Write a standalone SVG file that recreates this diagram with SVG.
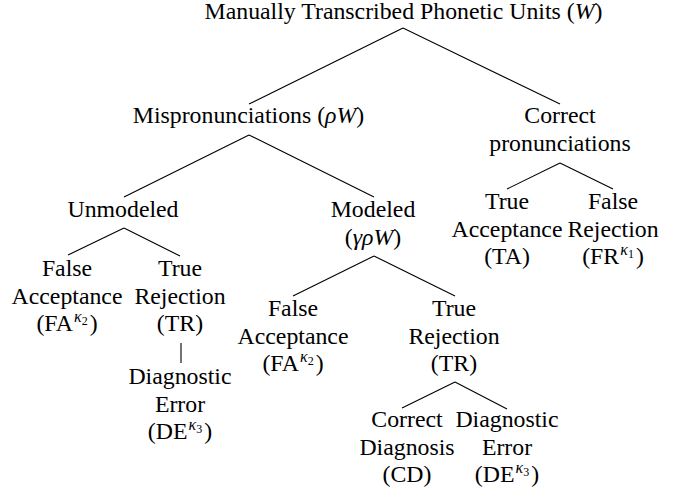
<svg xmlns="http://www.w3.org/2000/svg" width="687" height="495" viewBox="0 0 687 495">
<style>
.t{font-family:"Liberation Serif",serif;font-size:23.8px;fill:#000;text-anchor:middle}
.i{font-style:italic}
.k{font-style:italic;font-size:16px}
.s{font-size:12px}
.e{stroke:#000;stroke-width:1.1}
</style>
<rect width="687" height="495" fill="#fff"/>
<g id="edges" class="e">
<line x1="403" y1="28" x2="249" y2="104"/>
<line x1="403" y1="28" x2="560" y2="104"/>
<line x1="249" y1="135" x2="124" y2="197"/>
<line x1="249" y1="135" x2="374" y2="197"/>
<line x1="124" y1="228" x2="68" y2="255"/>
<line x1="124" y1="228" x2="180" y2="256"/>
<line x1="181" y1="343" x2="181" y2="363"/>
<line x1="374" y1="256" x2="293" y2="296"/>
<line x1="374" y1="256" x2="455" y2="296"/>
<line x1="455" y1="382" x2="402" y2="408"/>
<line x1="455" y1="382" x2="507" y2="409"/>
<line x1="560" y1="163" x2="507" y2="189"/>
<line x1="560" y1="163" x2="613" y2="189"/>
</g>
<g id="root"><text class="t" x="403.5" y="19">Manually Transcribed Phonetic Units (<tspan class="i">W</tspan>)</text></g>
<g id="mispron"><text class="t" x="248.5" y="123">Mispronunciations (<tspan class="i">ρW</tspan>)</text></g>
<g id="correct"><text class="t" x="560" y="123">Correct</text><text class="t" x="560" y="151">pronunciations</text></g>
<g id="unmodeled"><text class="t" x="123" y="217">Unmodeled</text></g>
<g id="modeled"><text class="t" x="373" y="217">Modeled</text><text class="t" x="373" y="245">(<tspan class="i">γρW</tspan>)</text></g>
<g id="fa1"><text class="t" x="67" y="276">False</text><text class="t" x="67" y="303.5">Acceptance</text><text class="t" x="67" y="331">(FA<tspan class="k" dx="1" dy="-9">κ</tspan><tspan class="s" dy="3">2</tspan><tspan dx="2" dy="6">)</tspan></text></g>
<g id="tr1"><text class="t" x="180" y="276">True</text><text class="t" x="180" y="303.5">Rejection</text><text class="t" x="180" y="331">(TR)</text></g>
<g id="de1"><text class="t" x="180" y="384">Diagnostic</text><text class="t" x="180" y="411.5">Error</text><text class="t" x="180" y="439">(DE<tspan class="k" dx="1" dy="-9">κ</tspan><tspan class="s" dy="3">3</tspan><tspan dx="2" dy="6">)</tspan></text></g>
<g id="fa2"><text class="t" x="293" y="316">False</text><text class="t" x="293" y="343.5">Acceptance</text><text class="t" x="293" y="371">(FA<tspan class="k" dx="1" dy="-9">κ</tspan><tspan class="s" dy="3">2</tspan><tspan dx="2" dy="6">)</tspan></text></g>
<g id="tr2"><text class="t" x="454" y="316">True</text><text class="t" x="454" y="343.5">Rejection</text><text class="t" x="454" y="371">(TR)</text></g>
<g id="cd"><text class="t" x="407" y="427">Correct</text><text class="t" x="407" y="454.5">Diagnosis</text><text class="t" x="407" y="482">(CD)</text></g>
<g id="de2"><text class="t" x="507" y="427">Diagnostic</text><text class="t" x="507" y="454.5">Error</text><text class="t" x="507" y="482">(DE<tspan class="k" dx="1" dy="-9">κ</tspan><tspan class="s" dy="3">3</tspan><tspan dx="2" dy="6">)</tspan></text></g>
<g id="ta"><text class="t" x="507" y="209">True</text><text class="t" x="507" y="236.5">Acceptance</text><text class="t" x="507" y="264">(TA)</text></g>
<g id="fr"><text class="t" x="613" y="209">False</text><text class="t" x="613" y="236.5">Rejection</text><text class="t" x="613" y="264">(FR<tspan class="k" dx="1" dy="-9">κ</tspan><tspan class="s" dy="3">1</tspan><tspan dx="2" dy="6">)</tspan></text></g>
</svg>
